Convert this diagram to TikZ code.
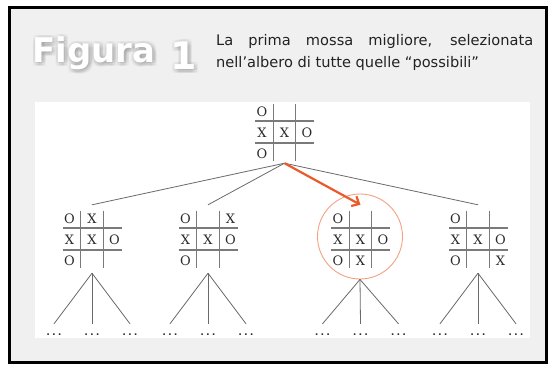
\documentclass[tikz,border=0pt]{standalone}
\usepackage{fontspec}
\newfontfamily\capfont{DejaVu Sans}
\newfontfamily\markfont{DejaVu Serif}
\newfontfamily\dotfont{DejaVu Sans Mono}
\usetikzlibrary{arrows.meta}

\definecolor{panelgray}{HTML}{F0F0F0}
\definecolor{gridgray}{HTML}{7A7A7A}
\definecolor{edgegray}{HTML}{6A6A6A}
\definecolor{markcol}{HTML}{2A2A2A}
\definecolor{pickorange}{HTML}{EA5A2A}
\definecolor{ringorange}{HTML}{F2A283}
\definecolor{captext}{HTML}{222222}

\tikzset{
  boardbox/.style={minimum width=62pt, minimum height=68pt, inner sep=0pt},
  gridline/.style={draw=gridgray, line width=1.1pt},
  markglyph/.style={inner sep=0pt, text=markcol,
    font=\fontsize{13}{13}\selectfont\markfont},
  treeedge/.style={draw=edgegray, line width=0.8pt},
  moredots/.style={inner sep=0pt, text height=11pt, anchor=base,
    font=\fontsize{9.5}{11}\selectfont\dotfont\bfseries, text=markcol},
  pickarrow/.style={draw=pickorange, line width=2.2pt,
    -{Straight Barb[length=6pt,width=11pt]}},
  ring/.style={draw=ringorange, circle, line width=0.9pt, minimum size=85pt, inner sep=0pt},
  captxt/.style={inner sep=0pt, anchor=base west, text=captext,
    font=\fontsize{14.6}{17}\capfont},
  titletxt/.style={inner sep=0pt, anchor=base west},
  wordfont/.style={font=\fontsize{34}{34}\capfont\bfseries},
  digitfont/.style={font=\fontsize{38}{38}\capfont\bfseries},
}

% a tic-tac-toe board: [node options]{name}{centre}{row/col/mark list}
\newcommand\tttboard[4][]{%
  \node[boardbox,#1] (#2) at #3 {};
  \begin{scope}[shift={(#2.center)}]
    \draw[gridline] (-11.25,-28.5) -- (-11.25,28.5)
                    (11.25,-28.5) -- (11.25,28.5)
                    (-29.5,-11) -- (29.5,-11)
                    (-29.5,11) -- (29.5,11);
    \foreach \rr/\cc/\mm in {#4}
      \node[markglyph] (#2-\rr\cc) at ({(\cc-2)*22.5},{(\rr-2)*21+0.5}) {\mm};
  \end{scope}}

\begin{document}
\begin{tikzpicture}[x=1pt,y=-1pt]
  \useasboundingbox (0,0) rectangle (548,365);
  \fill[white] (0,0) rectangle (548,365);

  % outer frame and white drawing panel
  \filldraw[fill=panelgray, draw=black, line width=3pt] (9.5,7.5) rectangle (546.5,362.5);
  \fill[white] (35,102) rectangle (530,338);

  % title with a soft shadow
  \foreach \dx [count=\i] in {-1.5,0,1.5,3,4.5}{
    \foreach \dy [count=\j] in {-1.5,0,1.5,3,4.5}{
      \node[titletxt, wordfont, text=black!60, opacity=0.03]
        (fsh\i\j) at ({32+\dx},{62+\dy}) {Figura};
      \node[titletxt, digitfont, text=black!60, opacity=0.03]
        (nsh\i\j) at ({170+\dx},{69+\dy}) {1};
    }}
  \node[titletxt, wordfont, text=white] (fig) at (32,62) {Figura};
  \node[titletxt, digitfont, text=white] (num) at (170,69) {1};

  % caption
  \node[captxt] (cap1) at (216,45) {\makebox[317pt][s]{La prima mossa migliore, selezionata}};
  \node[captxt] (cap2) at (216,67) {nell’albero di tutte quelle “possibili”};

  % boards
  \tttboard[minimum height=62pt]{root}{(284.5,132)}{1/1/O,2/1/X,2/2/X,2/3/O,3/1/O}
  \tttboard{c1}{(92,239)}{1/1/O,1/2/X,2/1/X,2/2/X,2/3/O,3/1/O}
  \tttboard{c2}{(208,239)}{1/1/O,1/3/X,2/1/X,2/2/X,2/3/O,3/1/O}
  \tttboard{c3}{(360.5,239)}{1/1/O,2/1/X,2/2/X,2/3/O,3/1/O,3/2/X}
  \tttboard{c4}{(478,239)}{1/1/O,2/1/X,2/2/X,2/3/O,3/1/O,3/3/X}

  % highlight of the chosen move
  \node[ring] (sel) at (360,236.5) {};

  % first level of the tree
  \draw[treeedge] (root.south) -- (c1.north);
  \draw[treeedge] (root.south) -- (c2.north);
  \draw[treeedge] (root.south) -- (c4.north);
  \draw[pickarrow] (root.south) -- (c3.north);

  % further branches
  \foreach \apex/\nm/\xx in {c1.south/c1/92, c2.south/c2/208, sel.south/c3/360.5, c4.south/c4/478}{
    \foreach \kk/\dx in {a/-38,b/0,c/38}{
      \node[moredots] (\nm-\kk) at ({\xx+\dx},335) {...};
      \draw[treeedge] (\apex) -- (\nm-\kk.north);
    }}
\end{tikzpicture}
\end{document}
